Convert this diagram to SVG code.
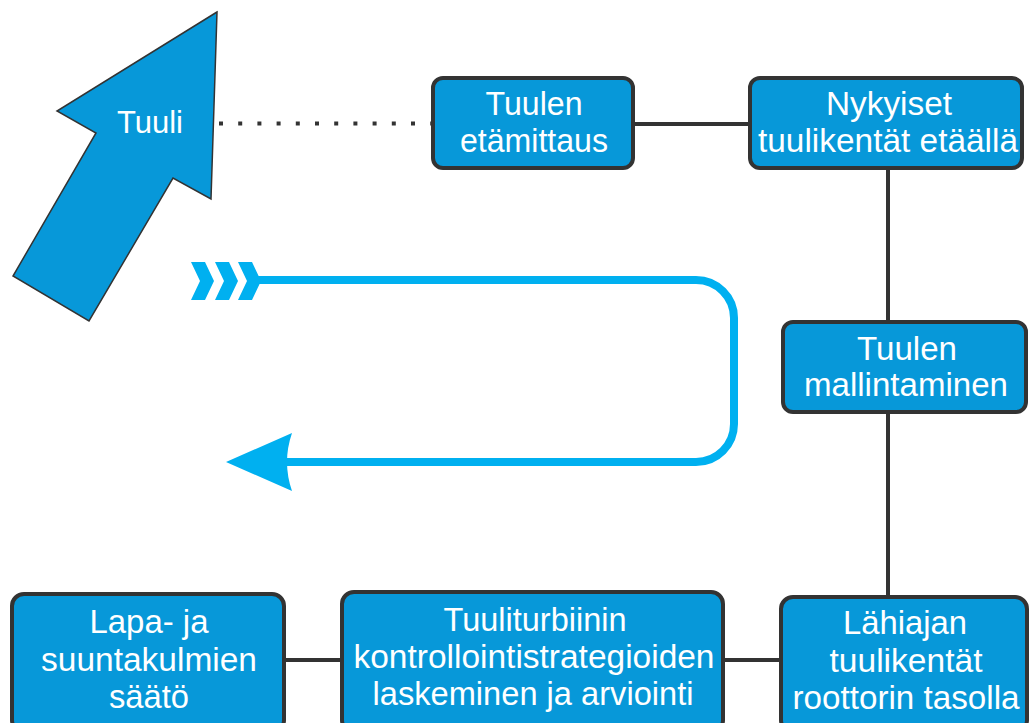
<svg xmlns="http://www.w3.org/2000/svg" width="1029" height="723" viewBox="0 0 1029 723">
  <style>
    .box { fill: #0798d9; stroke: #333333; stroke-width: 4; }
    .link { fill: none; stroke: #333333; stroke-width: 4; }
    .dots { fill: none; stroke: #333333; stroke-width: 4; stroke-dasharray: 4 15.2; }
    .label { font-family: "Liberation Sans", Arial, sans-serif; fill: #ffffff; text-anchor: middle; }
    .t32 { font-size: 32.5px; }
    .t33 { font-size: 33px; }
    .loop { fill: none; stroke: #00b0f0; stroke-width: 8; }
    .cyan { fill: #00b0f0; }
  </style>

  <!-- wind arrow -->
  <g id="wind">
    <polygon points="217,12 57,111 96,133 13,276 89,321 173,178 211,199" fill="#0798d9" stroke="#333333" stroke-width="1.5" stroke-linejoin="miter"/>
    <text class="label" x="150" y="133" font-size="31">Tuuli</text>
  </g>

  <!-- connectors -->
  <g id="connectors">
    <line class="dots" x1="219" y1="123.5" x2="433" y2="123.5"/>
    <line class="link" x1="633" y1="124" x2="750" y2="124"/>
    <line class="link" x1="888" y1="168" x2="888" y2="322"/>
    <line class="link" x1="888" y1="412" x2="888" y2="597"/>
    <line class="link" x1="283" y1="660" x2="342" y2="660"/>
    <line class="link" x1="723" y1="660" x2="781" y2="660"/>
  </g>

  <!-- feedback loop arrow -->
  <g id="loop">
    <path class="loop" d="M256,280 H696 A38,38 0 0 1 734,318 V424 A38,38 0 0 1 696,462 H282"/>
    <path class="cyan" d="M226,462 L292,433 Q282,462 292,491 Z"/>
    <polygon class="cyan" points="191,262 205,262 214,281 205,300 191,300 200,281"/>
    <polygon class="cyan" points="215,262 229,262 238,281 229,300 215,300 224,281"/>
    <polygon class="cyan" points="238,262 252,262 261,281 252,300 238,300 247,281"/>
  </g>

  <g id="remote-sensing">
    <rect class="box" x="433" y="78" width="200" height="90" rx="10"/>
    <text class="label t32" x="534" y="115" textLength="97" lengthAdjust="spacingAndGlyphs">Tuulen</text>
    <text class="label t32" x="534" y="152" textLength="148" lengthAdjust="spacingAndGlyphs">etämittaus</text>
  </g>

  <g id="current-fields">
    <rect class="box" x="750" y="78" width="272" height="90" rx="10"/>
    <text class="label t32" x="889" y="115" textLength="126" lengthAdjust="spacingAndGlyphs">Nykyiset</text>
    <text class="label t32" x="888" y="152" textLength="260" lengthAdjust="spacingAndGlyphs">tuulikentät etäällä</text>
  </g>

  <g id="modelling">
    <rect class="box" x="783" y="322" width="243" height="90" rx="10"/>
    <text class="label t32" x="907" y="360" textLength="100" lengthAdjust="spacingAndGlyphs">Tuulen</text>
    <text class="label t32" x="906" y="396" textLength="204" lengthAdjust="spacingAndGlyphs">mallintaminen</text>
  </g>

  <g id="rotor-fields">
    <rect class="box" x="781" y="597" width="246" height="135" rx="12"/>
    <text class="label t33" x="905" y="634" textLength="124" lengthAdjust="spacingAndGlyphs">Lähiajan</text>
    <text class="label t33" x="906" y="672" textLength="153" lengthAdjust="spacingAndGlyphs">tuulikentät</text>
    <text class="label t33" x="906" y="709" textLength="227" lengthAdjust="spacingAndGlyphs">roottorin tasolla</text>
  </g>

  <g id="control-strategies">
    <rect class="box" x="342" y="592" width="381" height="140" rx="12"/>
    <text class="label t33" x="535" y="631" textLength="183" lengthAdjust="spacingAndGlyphs">Tuuliturbiinin</text>
    <text class="label t33" x="534" y="668" textLength="361" lengthAdjust="spacingAndGlyphs">kontrollointistrategioiden</text>
    <text class="label t33" x="533" y="705" textLength="321" lengthAdjust="spacingAndGlyphs">laskeminen ja arviointi</text>
  </g>

  <g id="pitch-yaw">
    <rect class="box" x="12" y="594" width="272" height="138" rx="12"/>
    <text class="label t33" x="149" y="633" textLength="119" lengthAdjust="spacingAndGlyphs">Lapa- ja</text>
    <text class="label t33" x="149" y="671" textLength="216" lengthAdjust="spacingAndGlyphs">suuntakulmien</text>
    <text class="label t33" x="149" y="708" textLength="80" lengthAdjust="spacingAndGlyphs">säätö</text>
  </g>
</svg>
